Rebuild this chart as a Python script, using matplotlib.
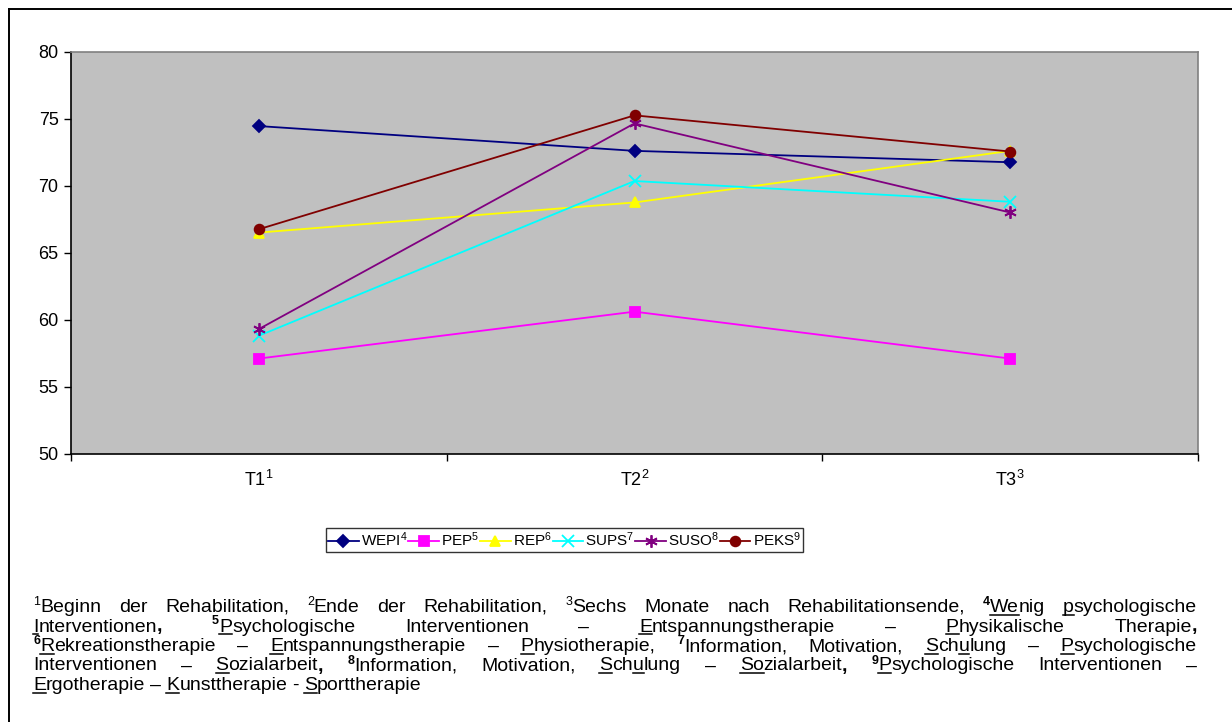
import re
import numpy as np
import matplotlib
matplotlib.use('Agg')
import matplotlib.pyplot as plt
from matplotlib.lines import Line2D

plt.rcParams['font.family'] = ['Liberation Sans', 'DejaVu Sans']
plt.rcParams['mathtext.fontset'] = 'custom'
plt.rcParams['mathtext.rm'] = 'Liberation Sans'
plt.rcParams['mathtext.it'] = 'Liberation Sans:italic'
plt.rcParams['mathtext.bf'] = 'Liberation Sans:bold'

# data
time_points = ['T1$^{1}$', 'T2$^{2}$', 'T3$^{3}$']
series_names = ['WEPI$^{4}$', 'PEP$^{5}$', 'REP$^{6}$', 'SUPS$^{7}$', 'SUSO$^{8}$', 'PEKS$^{9}$']
wepi = [74.45, 72.6, 71.75]
pep = [57.1, 60.6, 57.1]
rep = [66.5, 68.75, 72.6]
sups = [58.8, 70.35, 68.8]
suso = [59.3, 74.65, 68.0]
peks = [66.75, 75.25, 72.55]

colors = ['#000080', '#FF00FF', '#FFFF00', '#00FFFF', '#800080', '#800000']
markers = ['D', 's', '^', 'x', (6, 2, 0), 'o']
msizes = [6, 7, 7, 8, 9, 7]

# footnote lines: ^sup^  #bold sup#  _underline_  *bold*
footnote = [
    "^1^Beginn der Rehabilitation, ^2^Ende der Rehabilitation, ^3^Sechs Monate nach Rehabilitationsende, #4#_We_nig _p_sychologische",
    "_I_nterventionen*,* #5#_P_sychologische Interventionen – _E_ntspannungstherapie – _P_hysikalische Therapie*,*",
    "#6#_R_ekreationstherapie – _E_ntspannungstherapie – _P_hysiotherapie, #7#Information, Motivation, _S_ch_u_lung – _P_sychologische",
    "Interventionen – _S_ozialarbeit*,* #8#Information, Motivation, _S_ch_u_lung – _So_zialarbeit*,* #9#_P_sychologische Interventionen –",
    "_E_rgotherapie – _K_unsttherapie - _S_porttherapie",
]

W, H = 1232, 722
fig = plt.figure(figsize=(W / 100, H / 100), dpi=100)

# outer frame (only top and left visible)
fig.add_artist(Line2D([9 / W, 1], [1 - 9 / H, 1 - 9 / H], color='black', lw=1.4))
fig.add_artist(Line2D([9 / W, 9 / W], [0, 1 - 9 / H], color='black', lw=1.4))

ax = fig.add_axes([71 / W, 1 - 453.7 / H, 1127 / W, 402 / H])
ax.set_facecolor('#C0C0C0')

x = np.arange(len(time_points))
all_series = [wepi, pep, rep, sups, suso, peks]
for vals, name, c, m, ms in zip(all_series, series_names, colors, markers, msizes):
    ax.plot(x, vals, color=c, marker=m, markersize=ms, lw=1.3, label=name,
            markeredgecolor=c, markerfacecolor=c, markeredgewidth=1.3)

ax.set_xlim(-0.5, 2.5)
ax.set_ylim(50, 80)
ax.set_yticks(np.arange(50, 81, 5))
ax.set_xticks([-0.5, 0.5, 1.5, 2.5])
ax.set_xticklabels([])
ax.set_xticks(x, minor=True)
ax.set_xticklabels(time_points, minor=True)
ax.tick_params(axis='x', which='minor', length=0, pad=12, labelsize=13)
ax.tick_params(axis='x', which='major', length=5, width=1, direction='out')
ax.tick_params(axis='y', length=5, width=1, direction='out', pad=4, labelsize=13)
for s in ['top', 'right']:
    ax.spines[s].set_color('#808080')
    ax.spines[s].set_linewidth(1.2)
for s in ['left', 'bottom']:
    ax.spines[s].set_color('black')
    ax.spines[s].set_linewidth(1.2)

leg = fig.legend(loc='center', bbox_to_anchor=(564.5 / W, 1 - 540 / H), ncol=6,
                 fontsize=11, frameon=True, fancybox=False, edgecolor='black',
                 borderpad=0.15, handlelength=2.0, handletextpad=0.15,
                 columnspacing=0.05, numpoints=1, borderaxespad=0)
leg.get_frame().set_linewidth(1.0)

# footnote with justified lines
renderer = fig.canvas.get_renderer()
left_px, right_px = 33, 1197
baselines = [612, 631.5, 651, 670.5, 690]
fs = 14
token_re = re.compile(r'(\^[^^]*\^|#[^#]*#|_[^_]*_|\*[^*]*\*|[^^#_*]+)')


def make_run(tok):
    kind = 'n'
    if tok[0] in '^#_*' and len(tok) > 1 and tok[-1] == tok[0]:
        kind = tok[0]
        tok = tok[1:-1]
    size = fs
    weight = 'normal'
    if kind in '^#':
        size = 9
    if kind in '#*':
        weight = 'bold'
    t = fig.text(0, 0, tok, fontsize=size, fontweight=weight, va='baseline', ha='left')
    w = t.get_window_extent(renderer).width
    return t, w, kind


for i, line in enumerate(footnote):
    words = []
    for word in line.split(' '):
        runs = [make_run(tok) for tok in token_re.findall(word)]
        words.append(runs)
    widths = [sum(r[1] for r in runs) for runs in words]
    if i < len(footnote) - 1:
        gap = (right_px - left_px - sum(widths)) / (len(words) - 1)
    else:
        gap = 5
    xpos = left_px
    yb = baselines[i]
    for runs, wd in zip(words, widths):
        rx = xpos
        for t, w, kind in runs:
            ry = yb - 7 if kind in '^#' else yb
            t.set_position((rx / W, 1 - ry / H))
            if kind == '_':
                fig.add_artist(Line2D([rx / W, (rx + w) / W], [1 - (yb + 2.5) / H] * 2,
                                      color='black', lw=1.1))
            rx += w
        xpos += wd + gap

fig.savefig('out.png', dpi=100)
